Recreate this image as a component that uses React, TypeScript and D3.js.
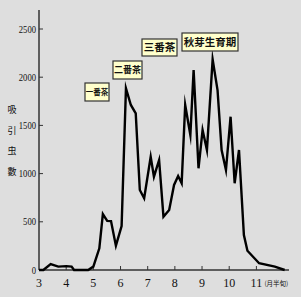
import React, { useRef, useEffect } from 'react';
import * as d3 from 'd3';

// month (with half-month steps) and number of insects caught
const months = [3, 3.16, 3.43, 3.71, 4, 4.2, 4.29, 4.81, 5, 5.22, 5.35, 5.51, 5.65, 5.83, 6.04, 6.2, 6.38, 6.56, 6.71, 6.87, 7.11, 7.23, 7.42, 7.58, 7.79, 7.97, 8.12, 8.25, 8.38, 8.57, 8.69, 8.87, 9.02, 9.18, 9.39, 9.57, 9.72, 9.88, 10.05, 10.2, 10.36, 10.54, 10.67, 11.1, 11.68, 12.04];
const counts = [0, 0, 62, 35, 40, 35, 0, 0, 35, 225, 580, 510, 508, 252, 456, 1885, 1712, 1625, 830, 744, 1175, 968, 1141, 553, 622, 882, 975, 900, 1712, 1400, 2075, 1055, 1452, 1245, 2185, 1867, 1245, 1037, 1590, 900, 1245, 363, 200, 70, 35, 0];
const xTicks = [3, 4, 5, 6, 7, 8, 9, 10, 11];
const yTicks = [0, 500, 1000, 1500, 2000, 2500];
const yTitle = ['吸', '引', '虫', '數'];
const stageLabels = ['一番茶', '二番茶', '三番茶', '秋芽生育期'];

function App() {
  const svgRef = useRef<SVGSVGElement>(null);

  useEffect(() => {
    const svg = d3.select(svgRef.current);
    svg.selectAll('*').remove();
    const width = 301, height = 297;

    svg.append('rect').attr('width', width).attr('height', height).attr('fill', '#dedede');

    const x = d3.scaleLinear().domain([3, 12.2]).range([39, 289]);
    const y = d3.scaleLinear().domain([0, 2500]).range([270, 29]);

    const serif = '"Liberation Serif", "DejaVu Serif", serif';

    // axes
    svg.append('line').attr('x1', x(3)).attr('x2', x(3)).attr('y1', 10).attr('y2', y(0))
      .attr('stroke', '#333').attr('stroke-width', 1.5);
    svg.append('line').attr('x1', x(3)).attr('x2', 289).attr('y1', y(0)).attr('y2', y(0))
      .attr('stroke', '#333').attr('stroke-width', 1.5);

    const yg = svg.append('g');
    yTicks.forEach(t => {
      if (t > 0) {
        yg.append('line').attr('x1', x(3)).attr('x2', x(3) + 4).attr('y1', y(t)).attr('y2', y(t))
          .attr('stroke', '#333').attr('stroke-width', 1);
      }
      const s = String(t);
      yg.append('text').attr('x', 36).attr('y', y(t)).attr('dy', '0.35em')
        .attr('text-anchor', 'end').attr('font-family', serif).attr('font-size', 10)
        .attr('textLength', s.length * 4.3).attr('lengthAdjust', 'spacingAndGlyphs')
        .attr('fill', '#111').text(s);
    });

    const xg = svg.append('g');
    xTicks.forEach(t => {
      if (t > 3) {
        xg.append('line').attr('x1', x(t)).attr('x2', x(t)).attr('y1', y(0)).attr('y2', y(0) - 4)
          .attr('stroke', '#333').attr('stroke-width', 1);
      }
      xg.append('text').attr('x', x(t)).attr('y', 287).attr('text-anchor', 'middle')
        .attr('font-family', serif).attr('font-size', 12).attr('fill', '#111').text(String(t));
    });
    xg.append('text').attr('x', x(11) + 8).attr('y', 286).attr('font-family', '"Noto Sans CJK JP", sans-serif')
      .attr('font-size', 6.5).attr('fill', '#111').text('(月半旬)');

    yTitle.forEach((c, i) => {
      svg.append('text').attr('x', 12).attr('y', 110 + i * 20.5).attr('dy', '0.35em')
        .attr('text-anchor', 'middle').attr('font-family', '"Noto Sans CJK JP", serif')
        .attr('font-size', 9).attr('fill', '#111').text(c);
    });

    // line
    const line = d3.line<number>()
      .x((d, i) => x(months[i]))
      .y(d => y(d));
    svg.append('path').datum(counts).attr('d', line)
      .attr('fill', 'none').attr('stroke', '#000').attr('stroke-width', 2.4)
      .attr('stroke-linejoin', 'miter').attr('stroke-miterlimit', 10);

    // stage labels
    const boxes = [
      { x: 85, y: 83, w: 24, h: 18, fs: 7.5 },
      { x: 113, y: 61, w: 29, h: 18, fs: 9 },
      { x: 142, y: 39, w: 35, h: 17, fs: 10.5 },
      { x: 182, y: 33, w: 56, h: 18, fs: 10.5 },
    ];
    stageLabels.forEach((lab, i) => {
      const b = boxes[i];
      const g = svg.append('g');
      g.append('rect').attr('x', b.x).attr('y', b.y).attr('width', b.w).attr('height', b.h)
        .attr('fill', '#ffffcc').attr('stroke', '#333').attr('stroke-width', 1.2);
      g.append('text').attr('x', b.x + b.w / 2).attr('y', b.y + b.h / 2).attr('dy', '0.36em')
        .attr('text-anchor', 'middle').attr('font-family', '"Noto Sans CJK JP", serif')
        .attr('font-size', b.fs).attr('font-weight', 'bold').attr('fill', '#111').text(lab);
    });
  }, []);

  return (
    <svg ref={svgRef} width={301} height={297}
      style={{ position: 'absolute', left: 0, top: 0, display: 'block' }}></svg>
  );
}

export default App;
